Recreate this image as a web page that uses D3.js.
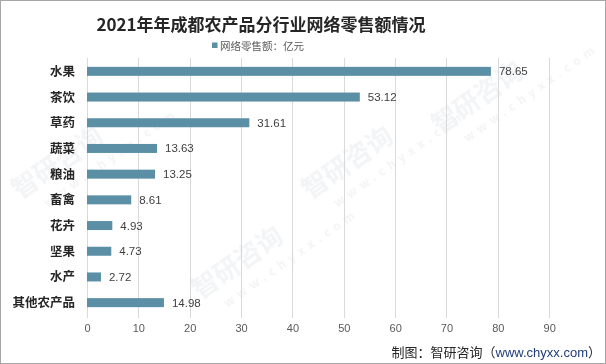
<!DOCTYPE html>
<html><head><meta charset="utf-8">
<script src="https://cdn.jsdelivr.net/npm/d3@7"></script>
<style>body{margin:0;background:#fff}svg{display:block}</style>
</head><body>
<svg id="c" width="606" height="364"></svg>
<script>
const categories = ["水果","茶饮","草药","蔬菜","粮油","畜禽","花卉","坚果","水产","其他农产品"];
const values = [78.65,53.12,31.61,13.63,13.25,8.61,4.93,4.73,2.72,14.98];
const ticks = [0,10,20,30,40,50,60,70,80,90];
const title = "2021年年成都农产品分行业网络零售额情况";
const legendLabel = "网络零售额：亿元";

const svg = d3.select("#c");
const W = 606, H = 364;
svg.append("rect").attr("x",0.5).attr("y",0.5).attr("width",W-1).attr("height",H-1)
  .attr("fill","#fff").attr("stroke","#a6a6a6");

// watermarks
const wm = svg.append("g").attr("opacity",0.07).attr("fill","#4a5a7a")
  .attr("font-family","Noto Sans CJK SC").attr("font-weight","bold");
[[20,200],[200,300],[310,200],[440,135]].forEach(([x,y])=>{
  const g = wm.append("g").attr("transform",`translate(${x},${y}) rotate(-35)`);
  g.append("text").attr("font-size",26).text("智研咨询");
  g.append("text").attr("y",22).attr("x",18).attr("font-size",12).attr("letter-spacing",5).text("www.chyxx.com");
});

const x = d3.scaleLinear().domain([0,90]).range([87,549.2]);
const y = d3.scaleBand().domain(categories).range([58.5,315.5]).paddingInner(0.65).paddingOuter(0.325);

svg.append("text").attr("x",261).attr("y",31).attr("text-anchor","middle")
  .attr("font-family","Noto Sans CJK SC").attr("font-weight","bold").attr("font-size",17)
  .attr("fill","#262626").text(title);

svg.append("rect").attr("x",212).attr("y",42.5).attr("width",5.5).attr("height",5.5).attr("fill","#5b8fa5");
svg.append("text").attr("x",220).attr("y",49.5).attr("font-family","Noto Sans CJK SC")
  .attr("font-size",10.5).attr("fill","#595959").text(legendLabel);

// gridlines
svg.append("g").selectAll("line").data(ticks).join("line")
  .attr("x1",d=>Math.round(x(d))+0.5).attr("x2",d=>Math.round(x(d))+0.5)
  .attr("y1",58).attr("y2",318).attr("stroke","#d9d9d9");

// axis labels
const ax = svg.append("g").attr("transform","translate(0,318)")
  .call(d3.axisBottom(x).tickValues(ticks).tickSize(0).tickPadding(6));
ax.select(".domain").remove();
ax.selectAll("text").attr("font-family","Liberation Sans, Arial").attr("font-size",11).attr("fill","#595959");

// bars
svg.append("g").selectAll("rect").data(values).join("rect")
  .attr("x",x(0)).attr("y",(d,i)=>y(categories[i]))
  .attr("width",d=>x(d)-x(0)).attr("height",y.bandwidth()).attr("fill","#5b8fa5");

svg.append("g").selectAll("text").data(values).join("text")
  .attr("x",d=>x(d)+8).attr("y",(d,i)=>y(categories[i])+y.bandwidth()/2+4)
  .attr("font-family","Liberation Sans, Arial").attr("font-size",11.5).attr("fill","#404040")
  .text(d=>d.toFixed(2));

// category labels
svg.append("g").selectAll("text").data(categories).join("text")
  .attr("x",75).attr("y",d=>y(d)+y.bandwidth()/2+4.5).attr("text-anchor","end")
  .attr("font-family","Noto Sans CJK SC").attr("font-weight","bold").attr("font-size",12.5)
  .attr("fill","#262626").text(d=>d);

// source
const src = svg.append("text").attr("x",601).attr("y",357).attr("text-anchor","end")
  .attr("font-family","Noto Sans CJK SC").attr("font-size",13).attr("fill","#262626");
src.append("tspan").text("制图：智研咨询（");
src.append("tspan").attr("fill","#1f3c78").attr("font-family","Liberation Sans, Arial").text("www.chyxx.com");
src.append("tspan").text("）");
</script>
</body></html>
